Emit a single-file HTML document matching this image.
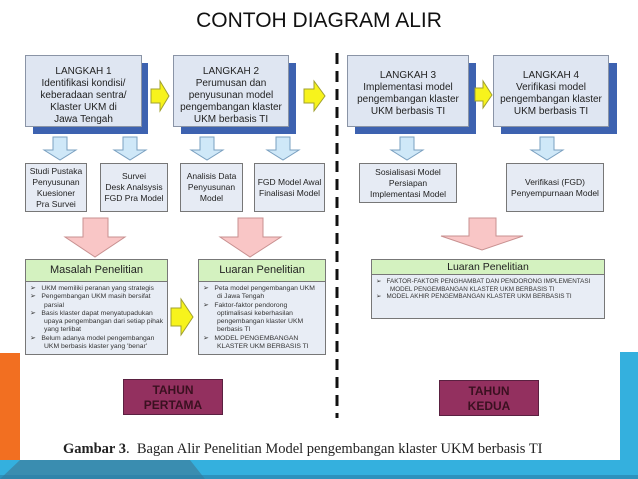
<!DOCTYPE html>
<html><head><meta charset="utf-8"><style>
body{margin:0;width:638px;height:479px;background:#fff;position:relative;overflow:hidden;font-family:"Liberation Sans",Arial,sans-serif}
.a{position:absolute;box-sizing:border-box}
.step{background:#dfe6f2;border:1px solid #8a94a6;text-align:center;font-size:10px;line-height:12px;color:#222;padding-top:10px}
.sh{background:#3d62b0}
.sm{background:#e6ebf4;border:1px solid #777;text-align:center;font-size:8.5px;line-height:11px;color:#222;display:flex;align-items:center;justify-content:center}
.res{background:#e8edf5;border:1px solid #777}
.hd{background:#d4f2c0;border-bottom:1px solid #777;text-align:center;font-size:11px;color:#222}
.ul{font-size:6.8px;line-height:8.3px;color:#333;padding:3px 3px 0 4px}
.ul div{padding-left:14px;text-indent:-14px}
.th{background:#93305f;border:1px solid #5a2040;text-align:center;font-weight:bold;font-size:12px;line-height:15px;color:#3a1020;padding-top:3px}
</style></head><body>
<div class="a" style="left:0;top:9px;width:638px;text-align:center;font-size:21px;color:#111">CONTOH DIAGRAM ALIR</div>

<div class="a sh" style="left:33px;top:63px;width:115px;height:71px"></div>
<div class="a step" style="left:25px;top:55px;width:117px;height:72px">LANGKAH 1<br>Identifikasi kondisi/<br>keberadaan sentra/<br>Klaster UKM di<br>Jawa Tengah</div>
<div class="a sh" style="left:181px;top:63px;width:115px;height:71px"></div>
<div class="a step" style="left:173px;top:55px;width:116px;height:72px">LANGKAH 2<br>Perumusan dan<br>penyusunan model<br>pengembangan klaster<br>UKM berbasis TI</div>
<div class="a sh" style="left:355px;top:63px;width:121px;height:71px"></div>
<div class="a step" style="left:347px;top:55px;width:122px;height:72px;padding-top:14px">LANGKAH 3<br>Implementasi model<br>pengembangan klaster<br>UKM berbasis TI</div>
<div class="a sh" style="left:501px;top:63px;width:116px;height:71px"></div>
<div class="a step" style="left:493px;top:55px;width:116px;height:72px;padding-top:14px">LANGKAH 4<br>Verifikasi model<br>pengembangan klaster<br>UKM berbasis TI</div>

<svg class="a" style="left:0;top:0" width="638" height="479">
<g fill="#f7f31c" stroke="#a0a030" stroke-width="1">
<polygon points="151,89 160,89 160,81 169,96 160,111 160,103 151,103"/>
<polygon points="304,89 314,89 314,81 325,96 314,111 314,103 304,103"/>
<polygon points="475,88 483,88 483,81 492,95 483,108 483,101 475,101"/>
<polygon points="171,308 181,308 181,299 193,317 181,335 181,326 171,326"/>
</g>
<g fill="#cfe8f8" stroke="#7aa0c0" stroke-width="1">
<polygon points="53,137 67,137 67,150 76,150 60,160 44,150 53,150"/>
<polygon points="123,137 137,137 137,150 146,150 130,160 114,150 123,150"/>
<polygon points="200,137 214,137 214,150 223,150 207,160 191,150 200,150"/>
<polygon points="276,137 290,137 290,150 299,150 283,160 267,150 276,150"/>
<polygon points="400,137 414,137 414,150 423,150 407,160 391,150 400,150"/>
<polygon points="540,137 554,137 554,150 563,150 547,160 531,150 540,150"/>
</g>
<g fill="#f9c6c6" stroke="#c89090" stroke-width="1">
<polygon points="83,218 108,218 108,237 125,237 95,257 65,237 83,237"/>
<polygon points="238,218 263,218 263,237 281,237 250,257 220,237 238,237"/>
<polygon points="469,218 496,218 496,236 523,236 482,250 441,236 469,236"/>
</g>
<line x1="337" y1="53" x2="337" y2="418" stroke="#111" stroke-width="3" stroke-dasharray="11,7"/>
</svg>

<div class="a sm" style="left:25px;top:163px;width:62px;height:49px">Studi Pustaka<br>Penyusunan<br>Kuesioner<br>Pra Survei</div>
<div class="a sm" style="left:100px;top:163px;width:68px;height:49px">Survei<br>Desk Analsysis<br>FGD Pra Model</div>
<div class="a sm" style="left:180px;top:163px;width:63px;height:49px">Analisis Data<br>Penyusunan<br>Model</div>
<div class="a sm" style="left:254px;top:163px;width:71px;height:49px">FGD Model Awal<br>Finalisasi Model</div>
<div class="a sm" style="left:359px;top:163px;width:98px;height:40px">Sosialisasi Model<br>Persiapan<br>Implementasi Model</div>
<div class="a sm" style="left:506px;top:163px;width:98px;height:49px">Verifikasi (FGD)<br>Penyempurnaan Model</div>

<div class="a res" style="left:25px;top:259px;width:143px;height:96px">
<div class="hd" style="height:21px;line-height:21px">Masalah Penelitian</div>
<div class="ul"><div>➢&nbsp;&nbsp;&nbsp;UKM memiliki peranan yang strategis</div><div>➢&nbsp;&nbsp;&nbsp;Pengembangan UKM masih bersifat parsial</div><div>➢&nbsp;&nbsp;&nbsp;Basis klaster dapat menyatupadukan upaya pengembangan dari setiap pihak yang terlibat</div><div>➢&nbsp;&nbsp;&nbsp;Belum adanya model pengembangan UKM berbasis klaster yang 'benar'</div></div></div>
<div class="a res" style="left:198px;top:259px;width:128px;height:96px">
<div class="hd" style="height:21px;line-height:21px">Luaran Penelitian</div>
<div class="ul"><div>➢&nbsp;&nbsp;&nbsp;Peta model pengembangan UKM di Jawa Tengah</div><div>➢&nbsp;&nbsp;&nbsp;Faktor-faktor pendorong optimalisasi keberhasilan pengembangan klaster UKM berbasis TI</div><div>➢&nbsp;&nbsp;&nbsp;MODEL PENGEMBANGAN KLASTER UKM BERBASIS TI</div></div></div>
<div class="a res" style="left:371px;top:259px;width:234px;height:60px">
<div class="hd" style="height:14px;line-height:14px;font-size:10.5px">Luaran Penelitian</div>
<div class="ul" style="font-size:6.3px;line-height:7.5px"><div>➢&nbsp;&nbsp;&nbsp;FAKTOR-FAKTOR PENGHAMBAT DAN PENDORONG IMPLEMENTASI MODEL PENGEMBANGAN KLASTER UKM BERBASIS TI</div><div>➢&nbsp;&nbsp;&nbsp;MODEL AKHIR PENGEMBANGAN KLASTER UKM BERBASIS TI</div></div></div>

<div class="a th" style="left:123px;top:379px;width:100px;height:36px">TAHUN<br>PERTAMA</div>
<div class="a th" style="left:439px;top:380px;width:100px;height:36px">TAHUN<br>KEDUA</div>

<div class="a" style="left:63px;top:441px;width:520px;font-family:'Liberation Serif',serif;font-size:14.5px;color:#222;white-space:nowrap"><b>Gambar 3</b>.&nbsp; Bagan Alir Penelitian Model pengembangan klaster UKM berbasis TI</div>

<div class="a" style="left:0;top:353px;width:20px;height:107px;background:#f26f21"></div>
<div class="a" style="left:620px;top:352px;width:18px;height:108px;background:#34b0de"></div>
<svg class="a" style="left:0;top:460px" width="638" height="19">
<rect x="0" y="0" width="638" height="19" fill="#34b0de"/>
<polygon points="20,0 190,0 205,19 0,19 0,19" fill="#3a8db0"/>
<rect x="0" y="15" width="638" height="4" fill="#2a7fa6" opacity="0.6"/>
</svg>
</body></html>
